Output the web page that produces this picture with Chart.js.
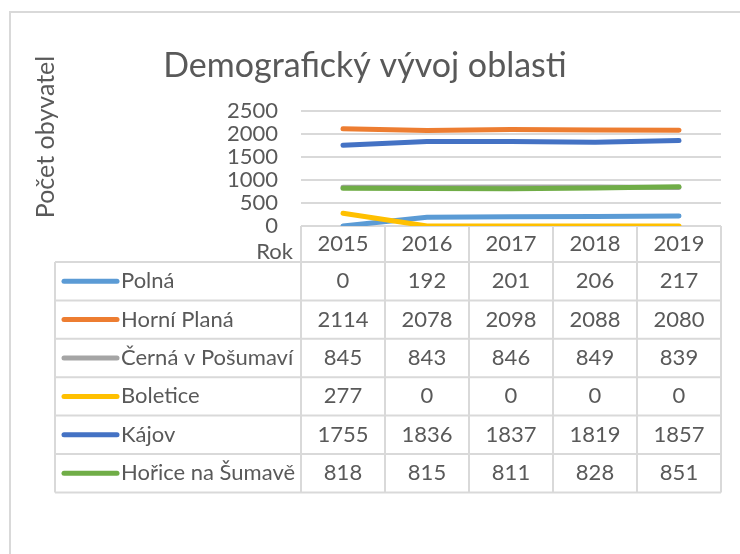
<!DOCTYPE html>
<html>
<head>
<meta charset="utf-8">
<script src="https://cdn.jsdelivr.net/npm/chart.js@4.4.1/dist/chart.umd.min.js"></script>
<style>
  body { margin: 0; background: #fff; }
  #wrap { width: 740px; height: 554px; }
</style>
</head>
<body>
<div id="wrap"><canvas id="chart" width="740" height="554"></canvas></div>
<script>
const years = ['2015', '2016', '2017', '2018', '2019'];
const seriesNames = ['Polná', 'Horní Planá', 'Černá v Pošumaví', 'Boletice', 'Kájov', 'Hořice na Šumavě'];
const polna = [0, 192, 201, 206, 217];
const horniPlana = [2114, 2078, 2098, 2088, 2080];
const cerna = [845, 843, 846, 849, 839];
const boletice = [277, 0, 0, 0, 0];
const kajov = [1755, 1836, 1837, 1819, 1857];
const horice = [818, 815, 811, 828, 851];
const colors = ['#5b9bd5', '#ed7d31', '#a5a5a5', '#ffc000', '#4472c4', '#70ad47'];

const allValues = [polna, horniPlana, cerna, boletice, kajov, horice];
const FONT = 'Lato';
const TEXT = '#595959';
const LINE = '#d9d9d9';

// chart frame, titles and the data table under the plot
const tablePlugin = {
    id: 'dataTable',
    beforeDraw(chart) {
        const ctx = chart.ctx;
        ctx.save();
        ctx.fillStyle = '#fff';
        ctx.fillRect(0, 0, chart.width, chart.height);
        ctx.strokeStyle = LINE;
        ctx.lineWidth = 2;
        ctx.strokeRect(10, 12, 800, 700);
        ctx.restore();
    },
    afterDraw(chart) {
        const ctx = chart.ctx;
        const x = chart.scales.x;
        const colW = (x.right - x.left) / years.length;
        const top = chart.chartArea.bottom;
        const headBottom = top + 36;
        const rowH = 38.4;
        const tableLeft = 55;

        ctx.save();
        // title
        ctx.fillStyle = TEXT;
        ctx.font = '34px ' + FONT;
        ctx.textAlign = 'center';
        ctx.textBaseline = 'alphabetic';
        ctx.fillText('Demografický vývoj oblasti', 365, 77);

        // y axis title
        ctx.save();
        ctx.translate(46, 137);
        ctx.rotate(-Math.PI / 2);
        ctx.font = '25px ' + FONT;
        ctx.textBaseline = 'middle';
        ctx.fillText('Počet obyvatel', 0, 0);
        ctx.restore();

        ctx.strokeStyle = LINE;
        ctx.lineWidth = 2;
        ctx.beginPath();
        for (let i = 0; i <= years.length; i++) {
            const cx = x.left + i * colW;
            ctx.moveTo(cx, top);
            ctx.lineTo(cx, headBottom + rowH * seriesNames.length);
        }
        ctx.moveTo(tableLeft, headBottom);
        ctx.lineTo(tableLeft, headBottom + rowH * seriesNames.length);
        for (let r = 0; r <= seriesNames.length; r++) {
            const y = headBottom + r * rowH;
            ctx.moveTo(tableLeft, y);
            ctx.lineTo(x.right, y);
        }
        ctx.stroke();

        ctx.font = '22px ' + FONT;
        ctx.textBaseline = 'middle';
        ctx.fillStyle = TEXT;
        ctx.textAlign = 'center';
        years.forEach((yr, i) => {
            ctx.fillText(yr, x.getPixelForValue(i), top + 18);
        });
        ctx.textAlign = 'right';
        ctx.fillText('Rok', x.left - 8, top + 26);

        seriesNames.forEach((name, r) => {
            const cy = headBottom + r * rowH + rowH / 2;
            ctx.strokeStyle = colors[r];
            ctx.lineWidth = 5;
            ctx.lineCap = 'round';
            ctx.beginPath();
            ctx.moveTo(64, cy);
            ctx.lineTo(117, cy);
            ctx.stroke();
            ctx.fillStyle = TEXT;
            ctx.textAlign = 'left';
            ctx.fillText(name, 121, cy);
            ctx.textAlign = 'center';
            allValues[r].forEach((v, i) => {
                ctx.fillText(String(v), x.getPixelForValue(i), cy);
            });
        });
        ctx.restore();
    }
};

new Chart(document.getElementById('chart'), {
    type: 'line',
    data: {
        labels: years,
        datasets: seriesNames.map((name, i) => ({
            label: name,
            data: allValues[i],
            borderColor: colors[i],
            backgroundColor: colors[i],
            borderWidth: 5,
            borderCapStyle: 'round',
            borderJoinStyle: 'round',
            pointRadius: 0,
            tension: 0,
            order: seriesNames.length - i
        }))
    },
    options: {
        responsive: false,
        animation: false,
        events: [],
        layout: { padding: { left: 29, right: 19, top: 111, bottom: 328 } },
        plugins: {
            legend: { display: false },
            title: { display: false },
            tooltip: { enabled: false }
        },
        scales: {
            x: {
                display: false,
                offset: true
            },
            y: {
                min: 0,
                max: 2500,
                ticks: {
                    stepSize: 500,
                    autoSkip: false,
                    padding: 23,
                    color: TEXT,
                    font: { family: FONT, size: 22 },
                    callback: (v) => String(v)
                },
                grid: { color: LINE, lineWidth: 2, drawTicks: false },
                border: { display: false },
                afterFit(scale) { scale.width = 272; }
            }
        }
    },
    plugins: [tablePlugin]
});
</script>
</body>
</html>
